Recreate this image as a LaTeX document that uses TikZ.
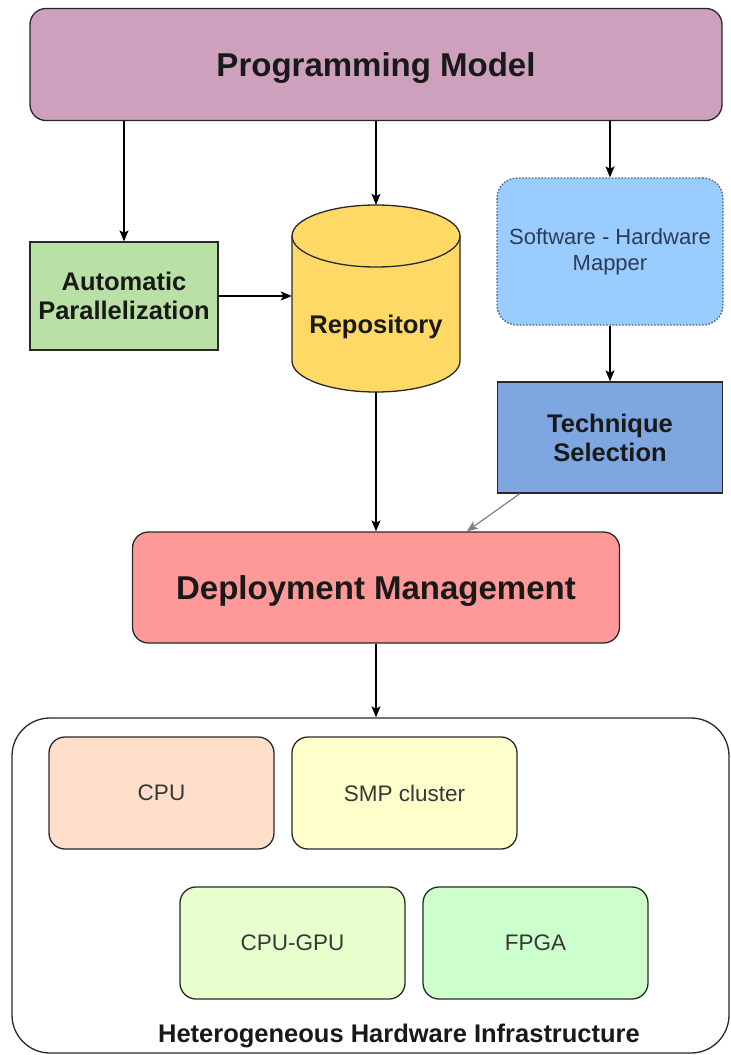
\documentclass[tikz,border=0pt]{standalone}
\usepackage{fontspec}
\setmainfont{Liberation Sans}
\usetikzlibrary{arrows.meta}
\definecolor{pmc}{RGB}{205,160,190}
\definecolor{apc}{RGB}{185,224,165}
\definecolor{repoc}{RGB}{255,217,102}
\definecolor{mapc}{RGB}{153,204,255}
\definecolor{tsc}{RGB}{126,166,224}
\definecolor{dmc}{RGB}{255,153,153}
\definecolor{cpuc}{RGB}{255,223,202}
\definecolor{smpc}{RGB}{255,255,204}
\definecolor{gpuc}{RGB}{230,255,204}
\definecolor{fpgac}{RGB}{204,255,204}
\definecolor{bordc}{RGB}{40,40,40}
\definecolor{txtc}{RGB}{25,25,25}
\definecolor{maptxt}{RGB}{45,60,85}
\definecolor{mapbord}{RGB}{80,100,130}
\definecolor{hwtxt}{RGB}{55,55,55}
\begin{document}
\begin{tikzpicture}[x=1pt,y=-1pt,
  box/.style={draw=bordc, line width=1.3pt, inner sep=0pt, align=center, text=txtc},
  bigbold/.style={font=\fontsize{33}{39}\selectfont\bfseries, text depth=0pt},
  midbold/.style={font=\fontsize{25.5}{29}\selectfont\bfseries},
  hwbox/.style={box, rounded corners=16pt, minimum width=225pt, minimum height=112pt, text=hwtxt, font=\fontsize{22.5}{26}\selectfont},
  arr/.style={-{Stealth[length=11pt,width=9pt,inset=2.5pt]}, line width=1.2pt, draw=black}
]
\useasboundingbox (0,0) rectangle (731,1055);

% Programming Model
\node[box, fill=pmc, rounded corners=16pt, minimum width=692pt, minimum height=112pt, bigbold] (pm) at (376,64.5) {Programming Model};

% Automatic Parallelization
\node[box, fill=apc, minimum width=188pt, minimum height=108pt, midbold] (ap) at (124,296) {Automatic\\Parallelization};

% Repository (cylinder)
\path[fill=repoc, draw=bordc, line width=1.3pt] (292,236) -- (292,361)
  arc[start angle=180, end angle=360, x radius=84pt, y radius=31pt] -- (460,236)
  arc[start angle=0, end angle=180, x radius=84pt, y radius=31pt] -- cycle;
\draw[draw=bordc, line width=1.3pt] (292,236) arc[start angle=180, end angle=360, x radius=84pt, y radius=31pt];
\node[inner sep=0pt, minimum width=168pt, minimum height=187pt] (repo) at (376,298.5) {};
\node[midbold, text=txtc] (repotxt) at (376,327) {Repository};

% Software - Hardware Mapper
\node[box, fill=mapc, draw=mapbord, dash pattern=on 1.6pt off 1.6pt, line width=1.3pt, rounded corners=20pt, minimum width=226pt, minimum height=147pt, text=maptxt, font=\fontsize{22}{26}\selectfont] (map) at (610,251.5) {Software - Hardware\\Mapper};

% Technique Selection
\node[box, fill=tsc, minimum width=225pt, minimum height=111pt, midbold] (ts) at (610,437.5) {Technique\\Selection};

% Deployment Management
\node[box, fill=dmc, rounded corners=16pt, minimum width=487pt, minimum height=111pt, bigbold] (dm) at (376,587.5) {Deployment Management};

% Heterogeneous Hardware Infrastructure container
\node[box, fill=white, rounded corners=38pt, minimum width=717pt, minimum height=335pt] (hw) at (370.5,885.5) {};
\node[hwbox, fill=cpuc] (cpu) at (161.5,793) {CPU};
\node[hwbox, fill=smpc] (smp) at (404.5,793) {SMP cluster};
\node[hwbox, fill=gpuc] (gpu) at (292.5,943) {CPU-GPU};
\node[hwbox, fill=fpgac] (fpga) at (535.5,943) {FPGA};
\node[inner sep=0pt, text=txtc, font=\fontsize{25.5}{29}\selectfont\bfseries] (hwlabel) at (399,1036) {Heterogeneous Hardware Infrastructure};

% Connectors
\draw[arr] (pm.south -| ap.north) -- (ap.north);
\draw[arr] (pm.south -| repo.north) -- (repo.north);
\draw[arr] (pm.south -| map.north) -- (map.north);
\draw[arr] (ap.east) -- (ap.east -| repo.west);
\draw[arr] (map.south) -- (ts.north);
\draw[arr, draw=gray] ([xshift=23pt]ts.south west) -- ([xshift=335pt]dm.north west);
\draw[arr] (repo.south) -- (repo.south |- dm.north);
\draw[arr] (dm.south) -- (dm.south |- hw.north);
\end{tikzpicture}
\end{document}
